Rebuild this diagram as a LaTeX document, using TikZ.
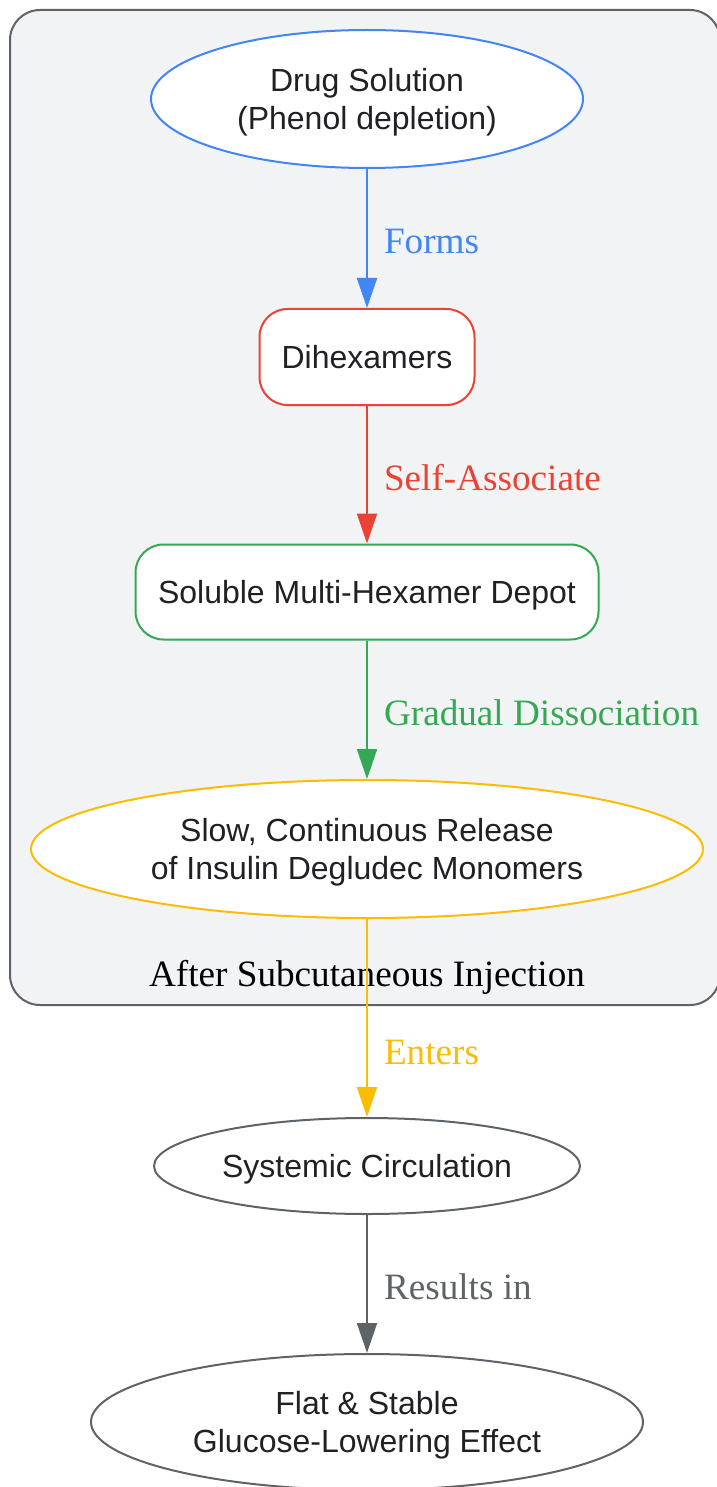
\documentclass[tikz,border=0pt]{standalone}
\usepackage{fontspec}
\setmainfont{Liberation Serif}
\setsansfont{Liberation Sans}
\usetikzlibrary{shapes.geometric,arrows.meta}
\definecolor{gblue}{HTML}{4285F4}
\definecolor{gred}{HTML}{EA4335}
\definecolor{ggreen}{HTML}{34A853}
\definecolor{gyellow}{HTML}{FBBC04}
\definecolor{ggray}{HTML}{5F6368}
\definecolor{clusterfill}{HTML}{F1F3F4}
\definecolor{txtdark}{HTML}{202124}
\def\midx{367}
\def\nodefont{\sffamily\fontsize{32}{38}\selectfont}
\def\lblfont{\rmfamily\fontsize{37.2}{42}\selectfont}

\tikzset{
  box/.style={draw, line width=2pt, fill=white, text=txtdark, font=\nodefont,
    align=center, inner sep=0pt, text depth=0pt},
  oval/.style={box, ellipse},
  pill/.style={box, rectangle, rounded corners=28pt},
  flow/.style={line width=2pt, draw=#1, -{Triangle[length=30pt,width=20pt,fill=#1]}},
  lbl/.style={anchor=west, font=\lblfont, text=#1, inner sep=0pt, xshift=16pt, yshift=-3pt}
}

\begin{document}
\begin{tikzpicture}[x=1pt,y=-1pt]
  \useasboundingbox (0,0) rectangle (716,1487);
  % the subcutaneous region
  \draw[line width=2pt, draw=ggray, fill=clusterfill, rounded corners=30pt]
    (10,10) rectangle (720,1005);
  \node[anchor=base, font=\lblfont, text=black, inner sep=0pt] (region) at (\midx,986)
    {After Subcutaneous Injection};
  % nodes
  \node[oval, draw=gblue, minimum width=432pt, minimum height=138pt] (drug) at (\midx,99)
    {Drug Solution\\(Phenol depletion)};
  \node[pill, draw=gred, minimum width=215pt, minimum height=96pt] (dihex) at (\midx,357)
    {Dihexamers};
  \node[pill, draw=ggreen, minimum width=463pt, minimum height=95pt] (depot) at (\midx,592)
    {Soluble Multi-Hexamer Depot};
  \node[oval, draw=gyellow, minimum width=672pt, minimum height=138pt] (release) at (\midx,849)
    {Slow, Continuous Release\\of Insulin Degludec Monomers};
  \node[oval, draw=ggray, minimum width=426pt, minimum height=96pt] (circ) at (\midx,1166)
    {Systemic Circulation};
  \node[oval, draw=ggray, minimum width=552pt, minimum height=136pt] (effect) at (\midx,1422)
    {Flat \& Stable\\Glucose-Lowering Effect};
  % connectors
  \draw[flow=gblue] (drug) -- node[lbl=gblue] {Forms} (dihex);
  \draw[flow=gred] (dihex) -- node[lbl=gred] {Self-Associate} (depot);
  \draw[flow=ggreen] (depot) -- node[lbl=ggreen] {Gradual Dissociation} (release);
  \draw[flow=gyellow] (release) -- node[lbl=gyellow, pos=0.66] {Enters} (circ);
  \draw[flow=ggray] (circ) -- node[lbl=ggray] {Results in} (effect);
\end{tikzpicture}
\end{document}
